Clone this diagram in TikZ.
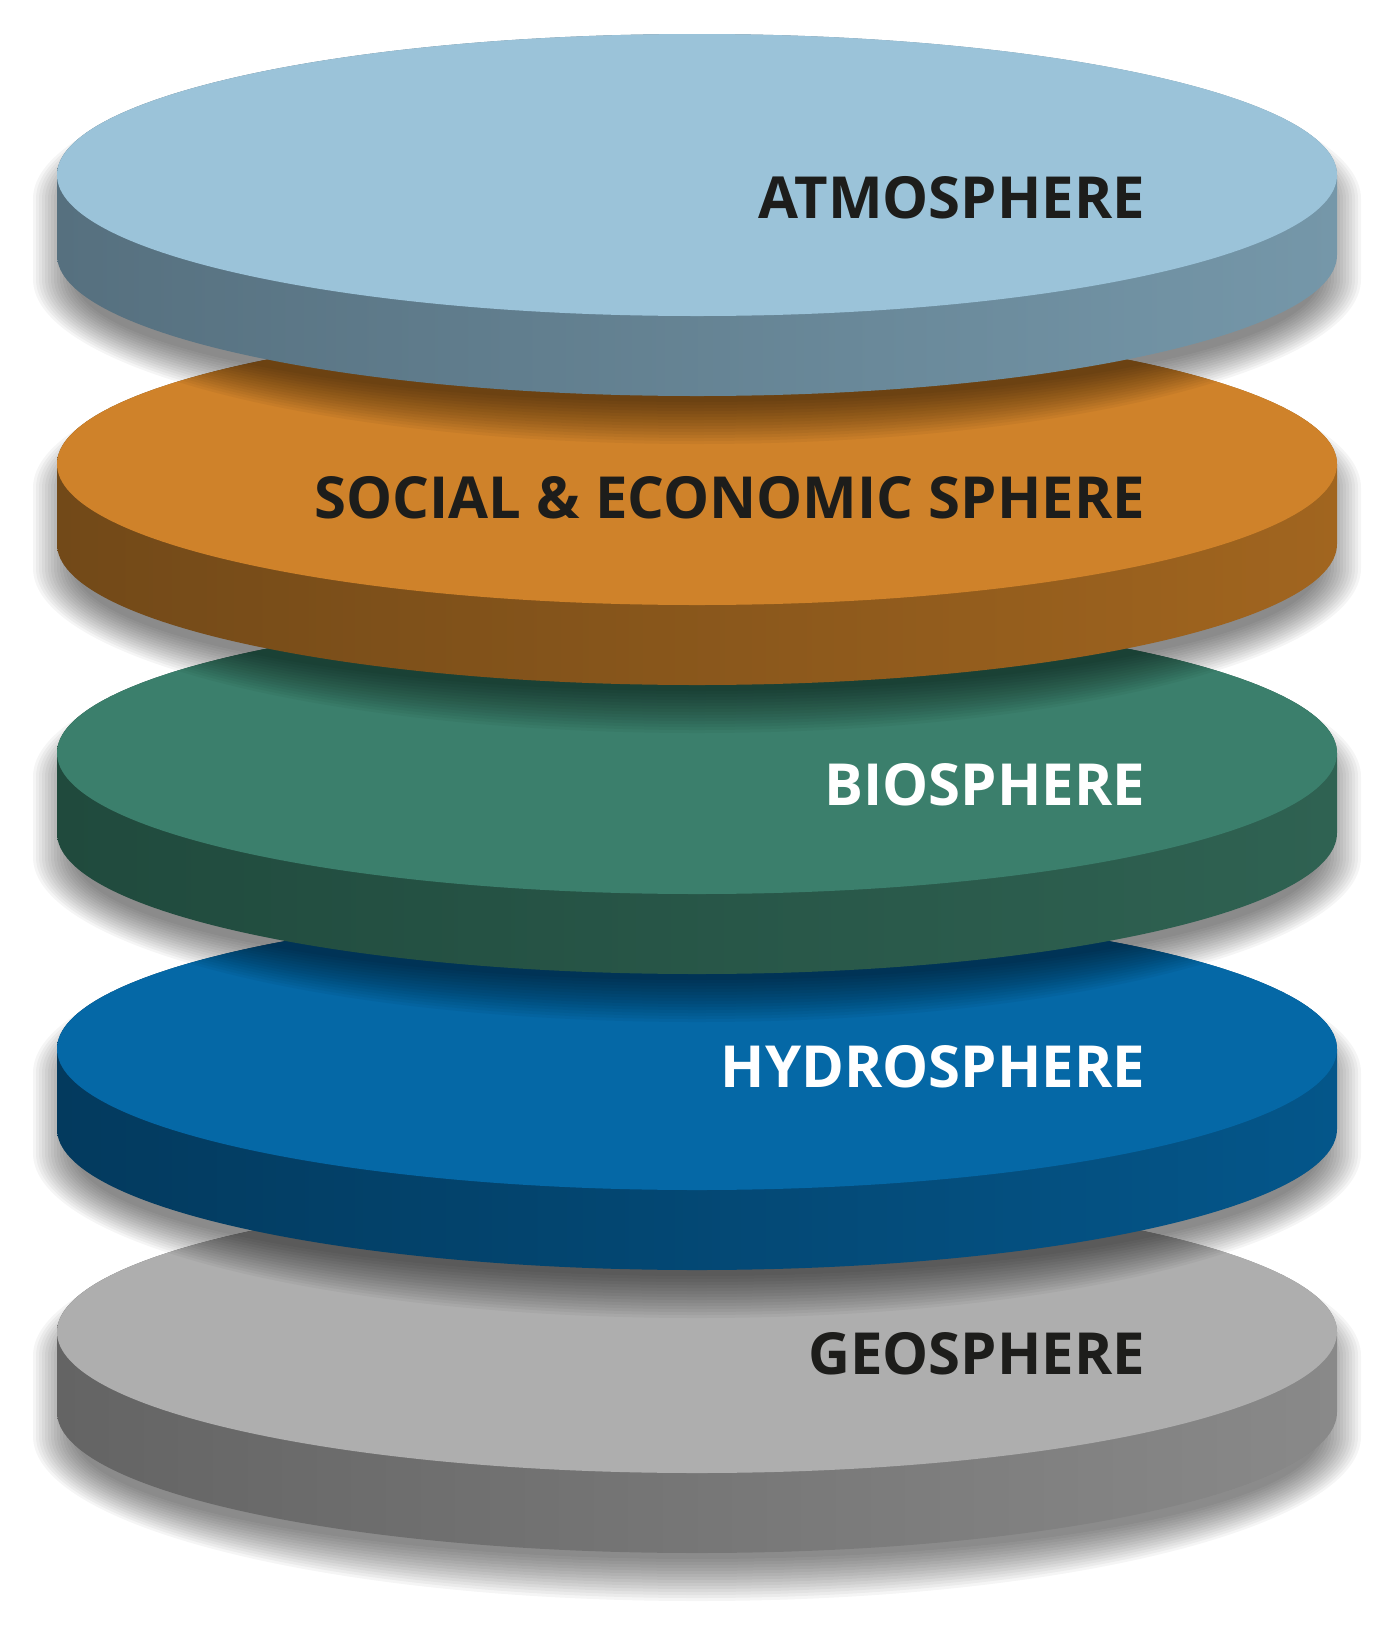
\documentclass[tikz,border=0pt]{standalone}
\usepackage{fontspec}
\setmainfont{Open Sans}
\usepackage{xcolor}
\usepackage{tikz}

\definecolor{atmotop}{HTML}{9BC3D9}
\definecolor{atmosidel}{HTML}{56707F}
\definecolor{atmosider}{HTML}{7597A9}
\definecolor{socialtop}{HTML}{CF822A}
\definecolor{socialsidel}{HTML}{724918}
\definecolor{socialsider}{HTML}{A1651F}
\definecolor{biotop}{HTML}{3B7F6C}
\definecolor{biosidel}{HTML}{204A3D}
\definecolor{biosider}{HTML}{2F6252}
\definecolor{hydrotop}{HTML}{0568A6}
\definecolor{hydrosidel}{HTML}{033A5E}
\definecolor{hydrosider}{HTML}{04568A}
\definecolor{geotop}{HTML}{AEAEAE}
\definecolor{geosidel}{HTML}{646464}
\definecolor{geosider}{HTML}{898989}
\definecolor{labeldark}{HTML}{1D1D1B}

\begin{document}
\begin{tikzpicture}[x=1pt, y=-1pt,
    sphere label/.style={anchor=base east, inner sep=0pt, font=\fontsize{58}{60}\selectfont\bfseries}]
    \def\discx{697}
    \def\disca{640}
    \def\discb{141}
    \def\discth{80}
    \useasboundingbox (0,0) rectangle (1395,1634);
    \foreach \cy/\name in {1332/geo, 1049/hydro, 753/bio, 464/social, 175/atmo}
    {
    \foreach \s in {-18,-15,...,24}
    {
    \fill[black, opacity=0.038] ({\discx-\disca-\s},{\cy+24}) arc[start angle=180, end angle=360, x radius=\disca+\s, y radius=\discb+\s] -- ++(0,\discth) arc[start angle=0, end angle=180, x radius=\disca+\s, y radius=\discb+\s] -- cycle;
    }
    \shade[left color=\name sidel, right color=\name sider] ({\discx-\disca},\cy) arc[start angle=180, end angle=360, x radius=\disca, y radius=\discb] -- ++(0,\discth) arc[start angle=0, end angle=180, x radius=\disca, y radius=\discb] -- cycle;
    \fill[fill=\name top] (\discx,\cy) ellipse[x radius=\disca, y radius=\discb];
    }
    
    \node[sphere label, text=labeldark] (atmo) at (1145,218) {ATMOSPHERE};
    \node[sphere label, text=labeldark] (social) at (1145,518) {SOCIAL \& ECONOMIC SPHERE};
    \node[sphere label, text=white] (bio) at (1145,805) {BIOSPHERE};
    \node[sphere label, text=white] (hydro) at (1145,1087) {HYDROSPHERE};
    \node[sphere label, text=labeldark] (geo) at (1145,1374) {GEOSPHERE};
\end{tikzpicture}
\end{document}
